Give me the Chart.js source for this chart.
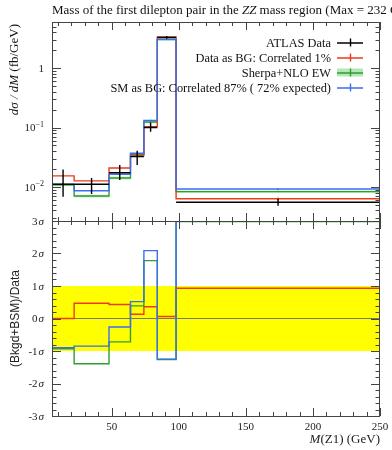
<!DOCTYPE html>
<html>
<head>
<meta charset="utf-8">
<script src="https://cdn.jsdelivr.net/npm/chart.js@4.4.0/dist/chart.umd.min.js"></script>
<style>
html, body { margin: 0; padding: 0; background: #fff; }
#wrap { position: relative; width: 392px; height: 450px; overflow: hidden; }
canvas { position: absolute; left: 0; }
#top-chart { top: 0; }
#ratio-chart { top: 200px; }
</style>
</head>
<body>
<div id="wrap">
  <canvas id="top-chart" width="392" height="222" style="width:392px;height:222px"></canvas>
  <canvas id="ratio-chart" width="392" height="250" style="width:392px;height:250px"></canvas>
</div>
<script>
// Bin edges of M(Z1) in GeV
const binEdges = [5.5, 22, 48, 64, 74, 84, 98, 250];

// Top panel: dsigma/dM (fb/GeV)
const dataVals   = [0.0111, 0.0111, 0.0173, 0.0323, 0.100, 3.30, 0.0055];
const dataErrUp  = [0.0085, 0.0030, 0.0060, 0.0085, 0.021, 0.17, 0.0008];
const dataErrDn  = [0.0043, 0.0035, 0.0042, 0.0090, 0.015, 0.17, 0.0007];
const redVals    = [0.0153, 0.0126, 0.0208, 0.0336, 0.1035, 3.35, 0.0063];
const redErr     = [0.0005, 0.0004, 0.0006, 0.0010, 0.003, 0.08, 0.0003];
const greenVals  = [0.0108, 0.0070, 0.0141, 0.0355, 0.124, 3.08, 0.0083];
const greenErr   = [0.0006, 0.0004, 0.0008, 0.0018, 0.006, 0.15, 0.0004];
const blueVals   = [0.0110, 0.0086, 0.0163, 0.0368, 0.131, 3.05, 0.0092];
const blueErr    = [0.0005, 0.0004, 0.0006, 0.0012, 0.004, 0.08, 0.0004];

// Bottom panel: significance in sigma
const redSig   = [0.00, 0.47, 0.43, 0.13, 0.36, 0.06, 0.93];
const greenSig = [-0.93, -1.39, -0.72, 0.39, 1.78, -1.26, 2.98];
const blueSig  = [-0.90, -0.85, -0.26, 0.52, 2.09, -1.25, 4.20];

// Axis ticks and labels
const xMajorTicks = [50, 100, 150, 200, 250];
const xTickLabels = ['50', '100', '150', '200', '250'];
const yTopTicks = [0.01, 0.1, 1];
const yTopTickLabels = [['10', '\u22122'], ['10', '\u22121'], ['1', '']];
const ySigTicks = [3, 2, 1, 0, -1, -2, -3];
const ySigTickLabels = ['3', '2', '1', '0', '-1', '-2', '-3'];

const legendLabels = ['ATLAS Data', 'Data as BG: Correlated 1%', 'Sherpa+NLO EW', 'SM as BG: Correlated 87% ( 72% expected)'];

const RED = '#ee3a1c';
const GREEN = '#2e9e2e';
const BLUE = '#3b6ff0';
const SERIF = '"Liberation Serif", "DejaVu Serif", serif';

// helpers building point lists from the arrays above
function histPoints(vals) {
    let pts = vals.map((v, i) => ({ x: binEdges[i], y: v }));
    pts.push({ x: binEdges[binEdges.length - 1], y: vals[vals.length - 1] });
    return pts;
}
function binLines(vals) {
    let pts = [];
    vals.forEach((v, i) => {
        pts.push({ x: binEdges[i], y: v }, { x: binEdges[i + 1], y: v }, { x: binEdges[i + 1], y: null });
    });
    return pts;
}
function errBars(vals, up, dn) {
    let pts = [];
    vals.forEach((v, i) => {
        let c = (binEdges[i] + binEdges[i + 1]) / 2;
        pts.push({ x: c, y: v - dn[i] }, { x: c, y: v + up[i] }, { x: c, y: null });
    });
    return pts;
}

function lineSet(data, color, width, stepped) {
    return {
        data: data,
        borderColor: color,
        borderWidth: width,
        pointRadius: 0,
        stepped: stepped ? 'before' : false,
        fill: false,
        spanGaps: false
    };
}

// frame with inward ticks, tick labels
function drawFrame(chart, kind) {
    const { ctx, chartArea: a, scales } = chart;
    const xs = scales.x, ys = scales.y;
    ctx.save();
    ctx.strokeStyle = '#444';
    ctx.lineWidth = 1;
    ctx.strokeRect(Math.round(a.left) + 0.5, Math.round(a.top) + 0.5, Math.round(a.right - a.left) - 1, Math.round(a.bottom - a.top));

    const tick = (x1, y1, x2, y2) => { ctx.beginPath(); ctx.moveTo(x1, y1); ctx.lineTo(x2, y2); ctx.stroke(); };

    // x ticks on top and bottom edges
    for (let v = 10; v <= 250; v += 10) {
        let px = Math.round(xs.getPixelForValue(v)) + 0.5;
        let len = xMajorTicks.includes(v) ? 8 : 4;
        tick(px, a.top, px, a.top + len);
        tick(px, a.bottom, px, a.bottom - len);
    }

    // y ticks
    let yTicks = [];
    if (kind === 'log') {
        for (let d = -3; d <= 0; d++) {
            for (let k = 1; k <= 9; k++) {
                let v = k * Math.pow(10, d);
                if (v >= ys.min && v <= ys.max) yTicks.push({ v: v, major: k === 1 });
            }
        }
    } else {
        for (let i = -15; i <= 15; i++) yTicks.push({ v: i / 5, major: i % 5 === 0 });
    }
    yTicks.forEach(t => {
        let py = Math.round(ys.getPixelForValue(t.v)) + 0.5;
        let len = t.major ? 9 : 4.5;
        tick(a.left, py, a.left + len, py);
        tick(a.right, py, a.right - len, py);
    });

    // y tick labels
    ctx.fillStyle = '#222';
    ctx.textBaseline = 'middle';
    if (kind === 'log') {
        yTopTicks.forEach((v, i) => {
            let py = ys.getPixelForValue(v);
            let [base, sup] = yTopTickLabels[i];
            ctx.font = '11px ' + SERIF;
            let wb = ctx.measureText(base).width;
            ctx.font = '8px ' + SERIF;
            let ws = sup ? ctx.measureText(sup).width : 0;
            let right = 44;
            ctx.font = '11px ' + SERIF;
            ctx.textAlign = 'left';
            ctx.fillText(base, right - ws - wb, py + 1);
            if (sup) {
                ctx.font = '8px ' + SERIF;
                ctx.fillText(sup, right - ws, py - 3);
            }
        });
    } else {
        ySigTicks.forEach((v, i) => {
            let py = ys.getPixelForValue(v);
            ctx.font = 'italic 11px ' + SERIF;
            let wsig = ctx.measureText('\u03c3').width;
            ctx.font = '11px ' + SERIF;
            let wn = ctx.measureText(ySigTickLabels[i]).width;
            let right = 44;
            ctx.textAlign = 'left';
            ctx.fillText(ySigTickLabels[i], right - wsig - wn - 1, py + 1);
            ctx.font = 'italic 11px ' + SERIF;
            ctx.fillText('\u03c3', right - wsig, py + 1);
        });
        // x tick labels
        ctx.font = '11px ' + SERIF;
        ctx.textAlign = 'center';
        xMajorTicks.forEach((v, i) => {
            ctx.fillText(xTickLabels[i], xs.getPixelForValue(v), a.bottom + 11);
        });
        // x title
        ctx.textBaseline = 'alphabetic';
        ctx.font = '13px ' + SERIF;
        let rest = '(Z1) (GeV)';
        let wr = ctx.measureText(rest).width;
        ctx.textAlign = 'right';
        ctx.fillText(rest, a.right, a.bottom + 27);
        ctx.font = 'italic 13px ' + SERIF;
        ctx.fillText('M', a.right - wr, a.bottom + 27);
        // y title
        ctx.save();
        ctx.translate(19, ys.getPixelForValue(0));
        ctx.rotate(-Math.PI / 2);
        ctx.font = '12px "Liberation Sans", "DejaVu Sans", sans-serif';
        ctx.textAlign = 'center';
        ctx.fillText('(Bkgd+BSM)/Data', 0, 0);
        ctx.restore();
    }
    ctx.restore();
}

const framePlugin = {
    id: 'framePlugin',
    afterDraw(chart, args, opts) {
        drawFrame(chart, opts.kind);
        if (opts.kind === 'log') drawTopText(chart);
    }
};

function drawTopText(chart) {
    const { ctx, chartArea: a } = chart;
    ctx.save();
    ctx.fillStyle = '#111';
    ctx.textBaseline = 'alphabetic';
    // title (runs off the right edge like the original)
    ctx.textAlign = 'left';
    let parts = [['Mass of the first dilepton pair in the ', ''], ['ZZ', 'italic '], [' mass region (Max = 232 GeV)', '']];
    let tx = a.left;
    parts.forEach(p => {
        ctx.font = p[1] + '13px ' + SERIF;
        ctx.fillText(p[0], tx, 14);
        tx += ctx.measureText(p[0]).width;
    });

    // y title
    ctx.save();
    ctx.translate(18, a.top + 2);
    ctx.rotate(-Math.PI / 2);
    ctx.textAlign = 'left';
    ctx.font = '13px ' + SERIF;
    let unit = ' (fb/GeV)';
    let wu = ctx.measureText(unit).width;
    ctx.font = 'italic 13px ' + SERIF;
    let lab = 'd\u03c3 / dM';
    let wl = ctx.measureText(lab).width;
    ctx.fillText(lab, -wl - wu, 0);
    ctx.font = '13px ' + SERIF;
    ctx.fillText(unit, -wu, 0);
    ctx.restore();

    // legend
    const rows = [42.5, 57.5, 72.5, 87.5];
    const colors = ['#000', RED, GREEN, BLUE];
    ctx.font = '12.4px ' + SERIF;
    ctx.textAlign = 'right';
    legendLabels.forEach((t, i) => {
        let y = rows[i];
        ctx.fillStyle = '#111';
        ctx.fillText(t, 331, y + 4);
        if (i === 2) {
            ctx.fillStyle = 'rgba(90, 200, 90, 0.45)';
            ctx.fillRect(337, y - 4, 26, 8);
        }
        ctx.strokeStyle = colors[i];
        ctx.lineWidth = 1.4;
        ctx.beginPath();
        ctx.moveTo(337, y + 0.5); ctx.lineTo(363, y + 0.5);
        ctx.moveTo(350.5, y - 4); ctx.lineTo(350.5, y + 4);
        ctx.stroke();
    });
    ctx.restore();
}

// Top chart: cross section
let topCtx = document.getElementById('top-chart').getContext('2d');
let greenLo = greenVals.map((v, i) => v - greenErr[i]);
let greenHi = greenVals.map((v, i) => v + greenErr[i]);

let topChart = new Chart(topCtx, {
    type: 'line',
    data: {
        datasets: [
            lineSet(binLines(dataVals), '#000', 1.4, false),
            lineSet(errBars(dataVals, dataErrUp, dataErrDn), '#000', 1.4, false),
            lineSet(errBars(blueVals, blueErr, blueErr), BLUE, 1.2, false),
            lineSet(histPoints(blueVals), BLUE, 1.4, true),
            lineSet(errBars(redVals, redErr, redErr), RED, 1.2, false),
            lineSet(histPoints(redVals), RED, 1.4, true),
            lineSet(histPoints(greenVals), GREEN, 1.4, true),
            Object.assign(lineSet(histPoints(greenHi), 'rgba(0,0,0,0)', 0, true), { fill: '+1', backgroundColor: 'rgba(90, 200, 90, 0.35)' }),
            lineSet(histPoints(greenLo), 'rgba(0,0,0,0)', 0, true)
        ]
    },
    options: {
        responsive: false,
        animation: false,
        devicePixelRatio: 1,
        layout: { padding: { top: 22, right: 12, bottom: 1, left: 0 } },
        scales: {
            x: { type: 'linear', min: 5.5, max: 250, display: false },
            y: {
                type: 'logarithmic', min: 0.00266, max: 6.0,
                ticks: { display: false },
                grid: { display: false },
                border: { display: false },
                afterFit: s => { s.width = 52; }
            }
        },
        plugins: {
            legend: { display: false },
            tooltip: { enabled: false },
            framePlugin: { kind: 'log' }
        }
    },
    plugins: [framePlugin]
});

// Bottom chart: significance
let ratioCtx = document.getElementById('ratio-chart').getContext('2d');
let xRange = [5.5, 250];

let ratioChart = new Chart(ratioCtx, {
    type: 'line',
    data: {
        datasets: [
            lineSet(histPoints(blueSig), BLUE, 1.4, true),
            lineSet(histPoints(greenSig), GREEN, 1.4, true),
            lineSet(histPoints(redSig), RED, 1.4, true),
            lineSet(xRange.map(x => ({ x: x, y: 0 })), '#777', 1, false),
            Object.assign(lineSet(xRange.map(x => ({ x: x, y: 1 })), 'rgba(0,0,0,0)', 0, false), { fill: '+1', backgroundColor: '#ffff00' }),
            lineSet(xRange.map(x => ({ x: x, y: -1 })), 'rgba(0,0,0,0)', 0, false)
        ]
    },
    options: {
        responsive: false,
        animation: false,
        devicePixelRatio: 1,
        layout: { padding: { top: 21, right: 12, bottom: 0, left: 0 } },
        scales: {
            x: {
                type: 'linear', min: 5.5, max: 250,
                ticks: { display: false },
                grid: { display: false },
                border: { display: false },
                afterFit: s => { s.height = 34; }
            },
            y: {
                type: 'linear', min: -3, max: 3,
                ticks: { display: false },
                grid: { display: false },
                border: { display: false },
                afterFit: s => { s.width = 52; }
            }
        },
        plugins: {
            legend: { display: false },
            tooltip: { enabled: false },
            framePlugin: { kind: 'lin' }
        }
    },
    plugins: [framePlugin]
});
</script>
</body>
</html>
